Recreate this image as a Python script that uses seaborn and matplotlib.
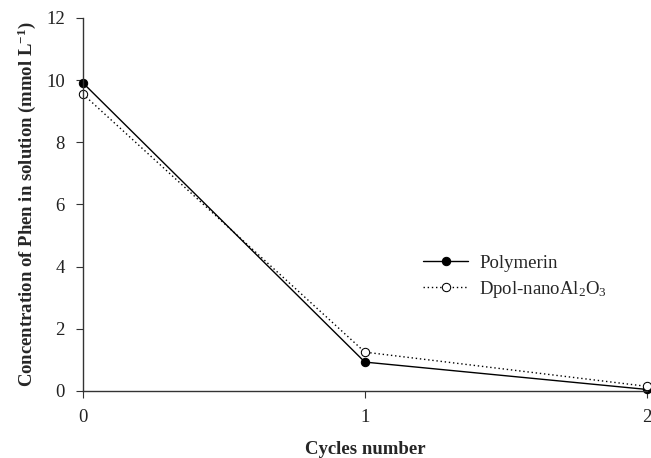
import matplotlib
matplotlib.use("Agg")
import matplotlib.pyplot as plt
import seaborn as sns
import pandas as pd

cycles = [0, 1, 2]
polymerin = [9.91, 0.93, 0.05]
dpol_nano = [9.55, 1.25, 0.15]
series_names = ["Polymerin", r"Dpol-nanoAl$_2$O$_3$"]

sns.set_style("ticks")
plt.rcParams["font.family"] = ["Liberation Serif", "DejaVu Serif"]
plt.rcParams["mathtext.fontset"] = "custom"
plt.rcParams["mathtext.rm"] = "Liberation Serif"
plt.rcParams["mathtext.it"] = "Liberation Serif:italic"
plt.rcParams["mathtext.bf"] = "Liberation Serif:bold"

df = pd.DataFrame({
    "cycle": cycles * 2,
    "conc": polymerin + dpol_nano,
    "series": [series_names[0]] * 3 + [series_names[1]] * 3,
})

fig = plt.figure(figsize=(6.51, 4.58), dpi=100)
ax = fig.add_axes([0.1275, 0.1463, 0.866, 0.8144])

sns.lineplot(data=df[df.series == series_names[0]], x="cycle", y="conc",
             color="black", linestyle="-", linewidth=1.0, marker="o",
             markersize=6, markerfacecolor="black", markeredgecolor="black",
             label=series_names[0], ax=ax, clip_on=False)
sns.lineplot(data=df[df.series == series_names[1]], x="cycle", y="conc",
             color="black", linestyle=(0, (1, 2)), linewidth=1.0, marker="o",
             markersize=6, markerfacecolor="white", markeredgecolor="black",
             label=series_names[1], ax=ax, clip_on=False)

ax.set_xlim(0, 2)
ax.set_ylim(0, 12)
ax.set_xticks([0, 1, 2])
ax.set_yticks([0, 2, 4, 6, 8, 10, 12])
ax.tick_params(axis="both", direction="out", length=5, width=0.8,
               labelsize=13.5, pad=8, color="#333333", labelcolor="#222222")
for s in ["top", "right"]:
    ax.spines[s].set_visible(False)
for s in ["left", "bottom"]:
    ax.spines[s].set_linewidth(1.0)
    ax.spines[s].set_color("#333333")

ax.set_xlabel("Cycles number", fontsize=13.5, fontweight="bold", labelpad=11)
ax.set_ylabel(r"Concentration of Phen in solution (mmol L$^{\mathbf{-1}}$)",
              fontsize=13.5, fontweight="bold", labelpad=6)

leg = ax.legend(loc="upper left", bbox_to_anchor=(0.59, 0.385), frameon=False,
                fontsize=13.5, handlelength=2.4, handletextpad=0.6,
                labelspacing=0.35, borderaxespad=0)

fig.savefig("out.png", dpi=100)
